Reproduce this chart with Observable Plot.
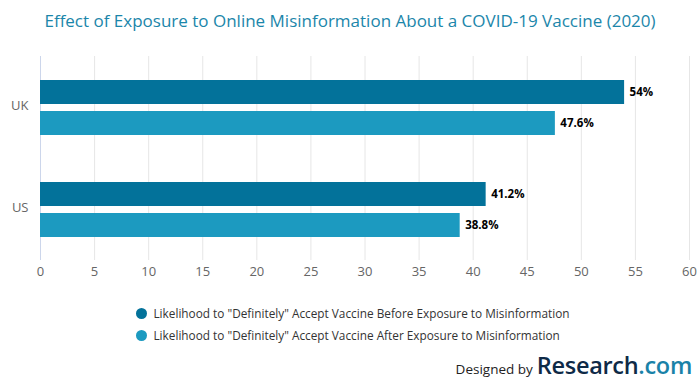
<!DOCTYPE html>
<html>
<head>
<meta charset="utf-8">
<script src="https://cdn.jsdelivr.net/npm/d3@7"></script>
<script src="https://cdn.jsdelivr.net/npm/@observablehq/plot@0.6"></script>
<style>
  html, body { margin: 0; padding: 0; background: #fff; }
  body { width: 700px; height: 391px; position: relative; font-family: "Open Sans", sans-serif; overflow: hidden; }
  #title { position: absolute; left: 0; top: 9px; width: 700px; text-align: center; font-size: 17px; color: #1b86aa; white-space: nowrap; }
  #chart { position: absolute; left: 0; top: 40px; }
  #legend { position: absolute; left: 0; top: 302px; width: 700px; display: flex; justify-content: center; }
  #legend .inner { display: inline-block; margin-left: 6px; }
  #legend .item { display: flex; align-items: center; height: 22px; font-size: 11.8px; color: #333; white-space: nowrap; }
  #legend .dot { width: 11px; height: 11px; border-radius: 50%; margin-right: 6px; }
  #credit { position: absolute; right: 8px; top: 349px; white-space: nowrap; display: flex; align-items: baseline; }
  #credit .by { font-size: 13.5px; color: #222; margin-right: 4px; }
  #credit .r { font-size: 23.5px; font-weight: 600; color: #0e2a47; letter-spacing: -0.3px; }
  #credit .c { font-size: 23.5px; font-weight: 600; color: #1a82a8; letter-spacing: -0.3px; }
</style>
</head>
<body>
<div id="title">Effect of Exposure to Online Misinformation About a COVID-19 Vaccine (2020)</div>
<div id="chart"></div>
<div id="legend"><div class="inner"></div></div>
<div id="credit"><span class="by">Designed by</span><span class="r">Research</span><span class="c">.com</span></div>
<script>
const countries = ["UK", "US"];
const seriesNames = [
  'Likelihood to "Definitely" Accept Vaccine Before Exposure to Misinformation',
  'Likelihood to "Definitely" Accept Vaccine After Exposure to Misinformation'
];
const beforeValues = [54, 41.2];
const afterValues = [47.6, 38.8];
const xTicks = [0, 5, 10, 15, 20, 25, 30, 35, 40, 45, 50, 55, 60];
const colors = ["#03729a", "#1c9ac0"];

const data = countries.flatMap((c, i) => [
  {country: c, series: seriesNames[0], value: beforeValues[i]},
  {country: c, series: seriesNames[1], value: afterValues[i]}
]);

const chart = Plot.plot({
  width: 700,
  height: 250,
  marginTop: 16,
  marginBottom: 30,
  marginLeft: 40,
  marginRight: 11,
  style: {fontFamily: "Open Sans, sans-serif", background: "#fff"},
  x: {domain: [0, 60]},
  fy: {domain: countries, padding: 0, label: null},
  y: {domain: seriesNames, paddingInner: 0.226, paddingOuter: 0.758, axis: null},
  color: {domain: seriesNames, range: colors},
  marks: [
    Plot.gridX(xTicks, {stroke: "#e6e6e6", strokeOpacity: 1}),
    Plot.ruleX([0], {stroke: "#ccd6eb"}),
    Plot.axisX(xTicks, {tickSize: 0, tickPadding: 6, fontSize: 13, color: "#666", label: null}),
    Plot.axisFy({anchor: "left", tickSize: 0, tickPadding: 12, dy: -2, fontSize: 13, color: "#666", label: null}),
    Plot.barX(data, {x: "value", y: "series", fy: "country", fill: "series"}),
    Plot.text(data, {
      x: "value", y: "series", fy: "country",
      text: d => d.value + "%",
      textAnchor: "start", dx: 5, fontSize: 11.5, fontWeight: "bold", fill: "#000"
    })
  ]
});
document.getElementById("chart").appendChild(chart);

const inner = document.querySelector("#legend .inner");
seriesNames.forEach((name, i) => {
  const item = document.createElement("div");
  item.className = "item";
  const dot = document.createElement("span");
  dot.className = "dot";
  dot.style.background = colors[i];
  const label = document.createElement("span");
  label.textContent = name;
  item.appendChild(dot);
  item.appendChild(label);
  inner.appendChild(item);
});
</script>
</body>
</html>
